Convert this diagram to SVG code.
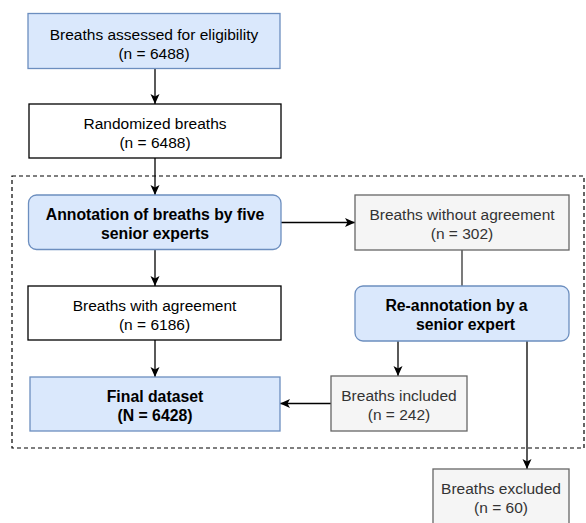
<svg xmlns="http://www.w3.org/2000/svg" width="586" height="523" viewBox="0 0 586 523">
<defs>
<marker id="arr" markerWidth="12" markerHeight="10" refX="10" refY="4.5" orient="auto" markerUnits="userSpaceOnUse">
<path d="M0,0 L10,4.5 L0,9 L2.5,4.5 z" fill="#000"/>
</marker>
</defs>
<style>
.blue{fill:#dae8fc;stroke:#6c8ebf;stroke-width:1.3}
.white{fill:#ffffff;stroke:#000000;stroke-width:1.3}
.gray{fill:#f5f5f5;stroke:#666666;stroke-width:1.3}
text{font-family:"Liberation Sans",Arial,sans-serif;font-size:15.5px;text-anchor:middle;fill:#000}
.b{font-weight:bold;font-size:15.8px}
.g{fill:#333333}
.c{fill:none;stroke:#000;stroke-width:1.3}
.cg{fill:none;stroke:#333;stroke-width:1.3}
</style>
<rect x="12" y="176" width="572" height="272" fill="none" stroke="#000" stroke-width="1.2" stroke-dasharray="4 3"/>
<g id="connectors">
<line class="c" x1="155" y1="68.5" x2="155" y2="104" marker-end="url(#arr)"/>
<line class="c" x1="155" y1="158" x2="155" y2="195" marker-end="url(#arr)"/>
<line class="c" x1="155" y1="249.5" x2="155" y2="286" marker-end="url(#arr)"/>
<line class="c" x1="155" y1="340" x2="155" y2="377" marker-end="url(#arr)"/>
<line class="c" x1="281" y1="222.5" x2="355" y2="222.5" marker-end="url(#arr)"/>
<line class="cg" x1="462" y1="250" x2="462" y2="286"/>
<line class="c" x1="398" y1="341" x2="398" y2="376" marker-end="url(#arr)"/>
<line class="c" x1="527" y1="341" x2="527" y2="469" marker-end="url(#arr)"/>
<line class="c" x1="331" y1="403.5" x2="280" y2="403.5" marker-end="url(#arr)"/>
</g>
<g id="n1">
<rect class="blue" x="28" y="13.5" width="252" height="55"/>
<text x="154" y="39.5">Breaths assessed for eligibility</text>
<text x="154" y="59">(n = 6488)</text>
</g>
<g id="n2">
<rect class="white" x="29" y="104" width="252" height="54"/>
<text x="155" y="129">Randomized breaths</text>
<text x="155" y="147.5">(n = 6488)</text>
</g>
<g id="n3">
<rect class="blue" x="28.5" y="195" width="252.5" height="54.5" rx="8"/>
<text class="b" x="155" y="219.5">Annotation of breaths by five</text>
<text class="b" x="155" y="238.5">senior experts</text>
</g>
<g id="n4">
<rect class="gray" x="355" y="195" width="214" height="55"/>
<text class="g" x="462" y="219.5">Breaths without agreement</text>
<text class="g" x="462" y="239">(n = 302)</text>
</g>
<g id="n5">
<rect class="blue" x="355" y="286" width="214" height="55" rx="8"/>
<text class="b" x="456.5" y="310.5">Re-annotation by a</text>
<text class="b" x="465.5" y="329.5">senior expert</text>
</g>
<g id="n6">
<rect class="white" x="28" y="286" width="253" height="54"/>
<text x="154.5" y="310.5">Breaths with agreement</text>
<text x="154.5" y="330">(n = 6186)</text>
</g>
<g id="n7">
<rect class="blue" x="30" y="377" width="250" height="54"/>
<text class="b" x="155" y="401.5">Final dataset</text>
<text class="b" x="155" y="421">(N = 6428)</text>
</g>
<g id="n8">
<rect class="gray" x="331" y="376" width="136" height="55"/>
<text class="g" x="399" y="400.5">Breaths included</text>
<text class="g" x="399" y="420">(n = 242)</text>
</g>
<g id="n9">
<rect class="gray" x="433" y="469" width="136" height="60"/>
<text class="g" x="501" y="493.5">Breaths excluded</text>
<text class="g" x="501" y="513">(n = 60)</text>
</g>
</svg>
